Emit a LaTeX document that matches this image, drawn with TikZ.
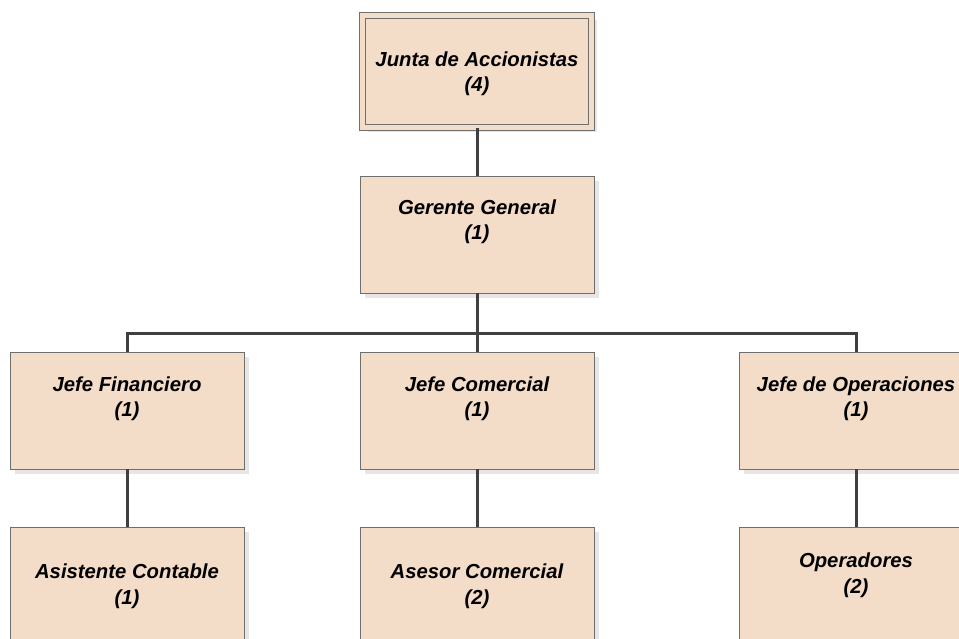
\documentclass[tikz,border=0pt]{standalone}
\usepackage{fontspec}
\setmainfont{Liberation Sans}
\usetikzlibrary{shadows}
\definecolor{boxfill}{HTML}{F3DCC8}
\definecolor{boxline}{HTML}{6E6E6E}
\definecolor{conn}{HTML}{404040}
\definecolor{shade}{HTML}{E6E6E6}
\begin{document}
\begin{tikzpicture}[x=1pt,y=-1pt,
  orgbox/.style={draw=boxline, line width=0.9pt, fill=boxfill,
    minimum width=234pt, minimum height=117pt, inner sep=0pt,
    drop shadow={shadow xshift=5pt, shadow yshift=-5pt, fill=shade, opacity=1}},
  boxtext/.style={font=\fontsize{20.3}{25.5}\selectfont\bfseries\itshape, align=center, text=black},
  topbox/.style={orgbox, double=boxfill, double distance=4.5pt},
  link/.style={draw=conn, line width=3pt}]
\useasboundingbox (0,0) rectangle (959,639);
\clip (0,0) rectangle (959,639);
% boxes
\node[topbox, minimum width=229pt, minimum height=112pt] (ja) at (477,71.5) {};
\node[orgbox] (gg) at (477,234.5) {};
\node[orgbox] (jf) at (127,410.5) {};
\node[orgbox] (jc) at (477,410.5) {};
\node[orgbox] (jo) at (856,410.5) {};
\node[orgbox] (ac) at (127,585.5) {};
\node[orgbox] (as) at (477,585.5) {};
\node[orgbox] (op) at (856,585.5) {};
% texts
\node[boxtext] (jat) at (477,74) {Junta de Accionistas\\(4)};
\node[boxtext] (ggt) at (477,222) {Gerente General\\(1)};
\node[boxtext] (jft) at (127,399) {Jefe Financiero\\(1)};
\node[boxtext] (jct) at (477,399) {Jefe Comercial\\(1)};
\node[boxtext] (jot) at (856,399) {Jefe de Operaciones\\(1)};
\node[boxtext] (act) at (127,586) {Asistente Contable\\(1)};
\node[boxtext] (ast) at (477,586) {Asesor Comercial\\(2)};
\node[boxtext] (opt) at (856,575) {Operadores\\(2)};
% connectors
\coordinate (bus) at (477,333);
\draw[link] (ja.south) -- (gg.north);
\draw[link] (gg.south) -- (bus);
\draw[link] (bus) -| (jf.north);
\draw[link] (bus) -| (jo.north);
\draw[link] (bus) -- (jc.north);
\draw[link] (jf.south) -- (ac.north);
\draw[link] (jc.south) -- (as.north);
\draw[link] (jo.south) -- (op.north);
\end{tikzpicture}
\end{document}
